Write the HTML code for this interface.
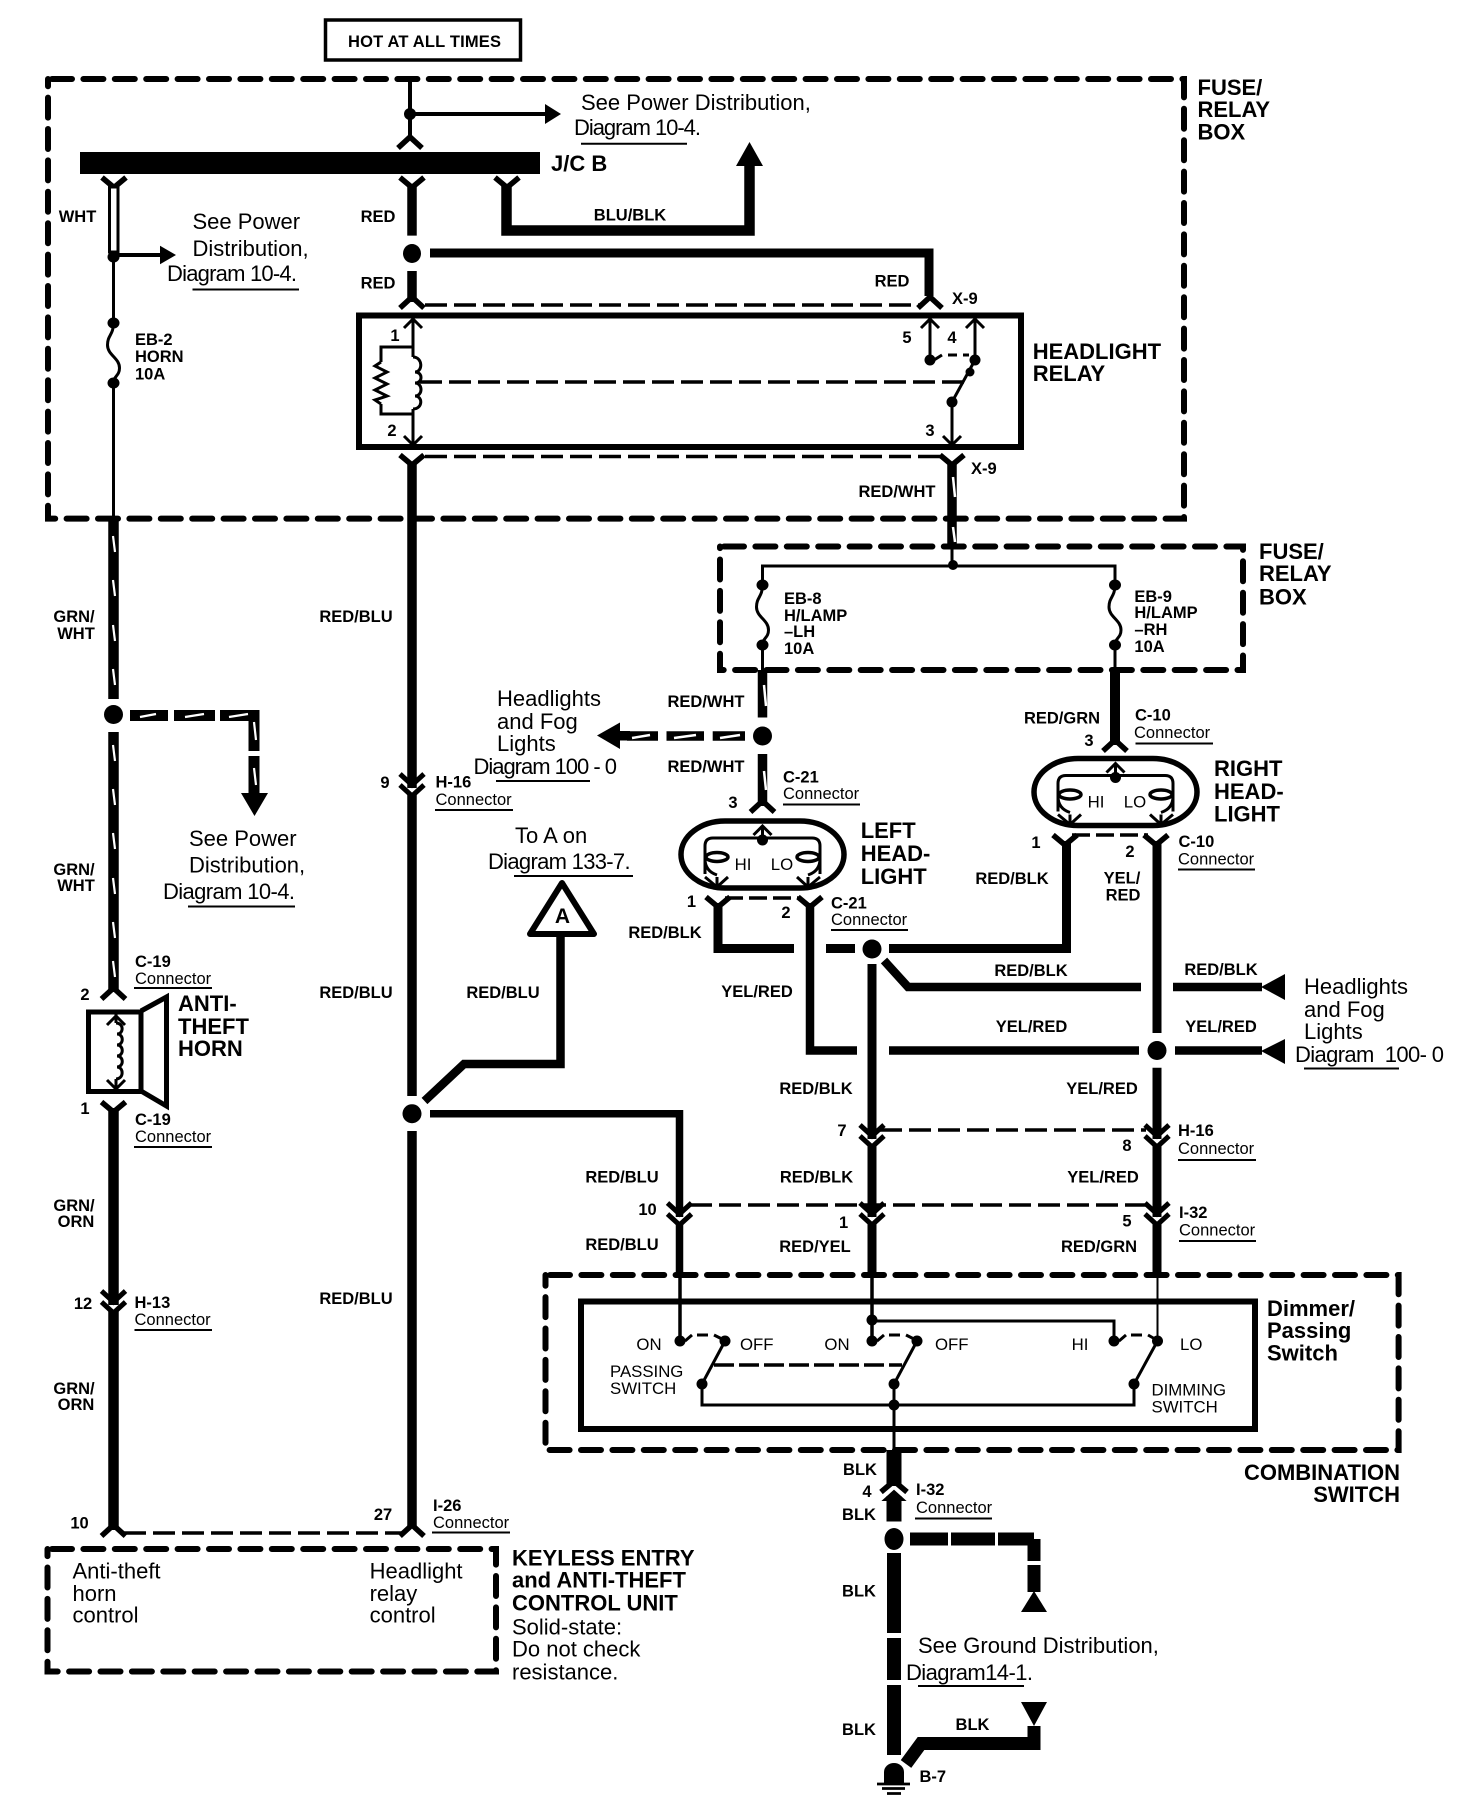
<!DOCTYPE html>
<html><head><meta charset="utf-8"><title>Wiring diagram</title>
<style>
html,body{margin:0;padding:0;background:#fff}
svg{display:block}
text{font-family:"Liberation Sans",sans-serif;fill:#000;stroke:none}
.b{font-size:16.5px;font-weight:bold}
.m{text-anchor:middle}
.c{font-size:16.5px}
.t{font-size:22px}
.h{font-size:22px;font-weight:bold}
.s{font-size:16.8px}
.e{text-anchor:end}
.u{stroke-width:2}
</style></head><body>
<svg width="1472" height="1816" viewBox="0 0 1472 1816" xmlns="http://www.w3.org/2000/svg" fill="none" stroke="#000">
<defs>
<path id="yo" d="M-12,0 L0,10 L12,0" stroke-width="5.5"/>
<path id="yp" d="M-12,11 L0,0 L12,11" stroke-width="5.5"/>
<path id="vu" d="M-9,9 L0,0 L9,9" stroke-width="3"/>
<path id="vd" d="M-9,-9 L0,0 L9,-9" stroke-width="3"/>
<g id="cc"><rect x="-7" y="14" width="14" height="5" fill="#fff" stroke="none"/><path d="M-12,0 L0,11 L12,0" stroke-width="5"/><path d="M-12,11 L0,22 L12,11" stroke-width="5"/></g>
<g id="fuse"><path d="M0,0 C0,12 -6,12 -6,22 C-6,32 6,35 6,45 C6,53 0,53 0,60" stroke-width="3"/><ellipse cx="0" cy="0" rx="6" ry="5.5" fill="#000" stroke="none"/><ellipse cx="0" cy="60" rx="6" ry="5.5" fill="#000" stroke="none"/></g>
<g id="hl">
<rect x="3" y="2" width="163" height="67" rx="44" ry="34" stroke-width="5.5"/>
<path d="M84.5,21 V7" stroke-width="3"/>
<use href="#vu" x="84.5" y="7"/>
<ellipse cx="84.5" cy="21" rx="5.5" ry="5.5" fill="#000" stroke="none"/>
<path d="M84.5,19 H35 Q27,19 27,27 V55 M84.5,19 H134 Q142,19 142,27 V55" stroke-width="3"/>
<ellipse cx="39" cy="38" rx="11" ry="4.5" stroke-width="3.5" fill="#fff"/>
<ellipse cx="130" cy="38" rx="11" ry="4.5" stroke-width="3.5" fill="#fff"/>
<path d="M27,40 Q27,52 39,56 M142,40 Q142,52 130,56" stroke-width="3"/>
<path d="M27,58 L39,68 L50,58 M39,58 V68 M119,58 L130,68 L142,58 M130,58 V68" stroke-width="3"/>
</g>
</defs>

<!-- HOT -->
<rect x="325.5" y="20" width="195" height="40" stroke-width="3.5"/>
<text class="b" x="348" y="47" textLength="153">HOT AT ALL TIMES</text>

<!-- dashed boxes -->
<g stroke-width="6" stroke-dasharray="20 11.4" stroke-linecap="round">
<path d="M52,79 H1184 V518.6 H48 V79"/>
<path d="M724,546.5 H1243 V670 H720 V546.5"/>
<path d="M550,1275 H1398.6 V1450 H545.5 V1275"/>
<path d="M52,1549 H496 V1671.5 H47.5 V1549"/>
</g>

<!-- top feed -->
<path d="M410,79 V137" stroke-width="4"/>
<ellipse cx="410" cy="114" rx="6" ry="6" fill="#000" stroke="none"/>
<path d="M410,114 H546" stroke-width="4"/>
<polygon points="545,104 561,114 545,124" fill="#000" stroke="none"/>
<use href="#yp" x="410" y="137"/>
<rect x="80" y="152" width="460" height="22" fill="#000" stroke="none"/>
<text class="h" x="551" y="171">J/C B</text>
<text class="t" x="581" y="110">See Power Distribution,</text>
<text class="t" x="574" y="135" textLength="127">Diagram 10-4.</text>
<path class="u" d="M581,143.7 H687"/>
<text class="h" x="1197.5" y="95">FUSE/</text>
<text class="h" x="1197.5" y="117">RELAY</text>
<text class="h" x="1197.5" y="139.6">BOX</text>

<!-- left WHT -->
<use href="#yo" x="114" y="177.5"/>
<rect x="109.5" y="187" width="8.5" height="65" fill="#fff" stroke-width="3"/>
<ellipse cx="113.5" cy="257" rx="6" ry="5.5" fill="#000" stroke="none"/>
<path d="M114,255 H161" stroke-width="4"/>
<polygon points="160,245.7 176,255 160,264.3" fill="#000" stroke="none"/>
<path d="M113.5,257 V323 M113.5,383 V518" stroke-width="3"/>
<use href="#fuse" x="113.5" y="323"/>
<text class="b m" x="77.5" y="222">WHT</text>
<text class="t" x="192.5" y="229">See Power</text>
<text class="t" x="192.5" y="256">Distribution,</text>
<text class="t" x="167" y="281" textLength="130">Diagram 10-4.</text>
<path class="u" d="M192.5,289.5 H299"/>
<text class="b" x="135" y="345">EB-2</text>
<text class="b" x="135" y="362">HORN</text>
<text class="b" x="135" y="379.5">10A</text>

<!-- middle RED -->
<use href="#yo" x="412" y="177.5"/>
<path d="M412,185 V235.6 M412,271 V302" stroke-width="9.5"/>
<ellipse cx="412" cy="253.5" rx="9" ry="9.5" fill="#000" stroke="none"/>
<use href="#yp" x="412" y="297"/>
<path d="M425,305 H920" stroke-width="3.5" stroke-dasharray="22 7"/>
<path d="M430,253 H929 V296" stroke-width="9"/>
<use href="#yp" x="930" y="297"/>
<text class="b m" x="378" y="222">RED</text>
<text class="b m" x="378" y="288.6">RED</text>
<text class="b m" x="892" y="286.6">RED</text>
<text class="b" x="952" y="304">X-9</text>

<!-- BLU/BLK -->
<use href="#yo" x="507" y="177.5"/>
<path d="M506.5,185 V230.5 H749.5 V165" stroke-width="10.5"/>
<polygon points="749.5,142 763,166 736,166" fill="#000" stroke="none"/>
<text class="b m" x="630" y="220.7">BLU/BLK</text>

<!-- relay -->
<rect x="359" y="315.5" width="662" height="131.5" stroke-width="6"/>
<text class="h" x="1032.7" y="359">HEADLIGHT</text>
<text class="h" x="1032.7" y="381">RELAY</text>
<path d="M413,318 V357 M413,409 V446" stroke-width="3"/>
<use href="#vu" x="413" y="319"/>
<use href="#vd" x="413" y="445"/>
<path d="M413,347 H381 V362 M381,404 V414 H413" stroke-width="3"/>
<path d="M381,362 L375,366 L387,372 L375,378 L387,384 L375,390 L387,396 L375,400 L381,404" stroke-width="3"/>
<path d="M413,357 C423,357 423,372 415,372 C423,372 423,383 415,383 C423,383 423,396 415,396 C423,396 423,409 413,409" stroke-width="3"/>
<path d="M420,382 H964" stroke-width="3.5" stroke-dasharray="22 7"/>
<path d="M930,319 V360 M975,319 V360 M975,360 L952,402 V444" stroke-width="3"/>
<use href="#vu" x="930" y="319"/>
<use href="#vu" x="975" y="319"/>
<use href="#vd" x="952" y="445"/>
<circle cx="930" cy="360" r="5.5" fill="#000" stroke="none"/>
<circle cx="975" cy="360" r="5.5" fill="#000" stroke="none"/>
<circle cx="970" cy="372" r="4.5" fill="#000" stroke="none"/>
<circle cx="952" cy="402" r="5.5" fill="#000" stroke="none"/>
<path d="M934,360 L942,355 M948,355 H957 M963,355 H969" stroke-width="3"/>
<text class="b m" x="395" y="341">1</text>
<text class="b m" x="392" y="436">2</text>
<text class="b m" x="907" y="343">5</text>
<text class="b m" x="952" y="343">4</text>
<text class="b m" x="930" y="436">3</text>

<!-- connector line under relay -->
<path d="M425,456.5 H940" stroke-width="3.5" stroke-dasharray="22 7"/>
<use href="#yo" x="412" y="455"/>
<use href="#yo" x="952" y="455"/>
<text class="b" x="971" y="474">X-9</text>
<path d="M412,462 V1096" stroke-width="9.5"/>
<circle cx="412" cy="1113.7" r="9.5" fill="#000" stroke="none"/>
<path d="M412,1131 V1528" stroke-width="9.5"/>
<use href="#yp" x="412" y="1525"/>

<!-- RED/WHT -->
<path d="M952,462 V546" stroke-width="9.5"/>
<path d="M953,477 L955,497 M953,527 L955,542" stroke="#fff" stroke-width="2.5"/>
<path d="M952,546 V566" stroke-width="3"/>
<text class="b m" x="897" y="497">RED/WHT</text>
<circle cx="953" cy="565" r="5" fill="#000" stroke="none"/>
<path d="M762.5,585 V566 H1115 V585" stroke-width="3"/>
<use href="#fuse" x="762.5" y="585"/>
<use href="#fuse" x="1115" y="585"/>
<path d="M762.5,645 V672 M1115,645 V672" stroke-width="3"/>
<text class="b" x="784" y="604">EB-8</text>
<text class="b" x="784" y="621">H/LAMP</text>
<text class="b" x="784" y="637">–LH</text>
<text class="b" x="784" y="654">10A</text>
<text class="b" x="1134.4" y="602">EB-9</text>
<text class="b" x="1134.4" y="618">H/LAMP</text>
<text class="b" x="1134.4" y="635">–RH</text>
<text class="b" x="1134.4" y="652">10A</text>
<text class="h" x="1259" y="559">FUSE/</text>
<text class="h" x="1259" y="581">RELAY</text>
<text class="h" x="1259" y="604.5">BOX</text>

<!-- wires down to headlights -->
<path d="M762.5,670 V717.5 M762.5,754 V806" stroke-width="9.5"/>
<path d="M764,685 L766,706 M764,771 L766,790" stroke="#fff" stroke-width="2.5"/>
<ellipse cx="762.5" cy="736" rx="9.5" ry="9.5" fill="#000" stroke="none"/>
<use href="#yp" x="762.5" y="801"/>
<path d="M627,736 H658 M666.5,736 H704 M712.7,736 H745" stroke-width="9.5"/>
<path d="M632,738 L650,735 M674,738 L696,735 M720,738 L740,735" stroke="#fff" stroke-width="2.5"/>
<polygon points="597,735.5 620,722.5 620,749" fill="#000" stroke="none"/>
<rect x="620" y="731" width="10" height="9.5" fill="#000" stroke="none"/>
<path d="M1115,670 V745" stroke-width="10"/>
<use href="#yp" x="1115" y="740"/>
<text class="b m" x="706" y="707">RED/WHT</text>
<text class="b m" x="706" y="772">RED/WHT</text>
<text class="b m" x="1062" y="723.5">RED/GRN</text>
<text class="b" x="1135" y="720.5">C-10</text>
<text class="c" x="1134" y="738">Connector</text>
<path class="u" d="M1135.5,743.5 H1213"/>
<text class="b m" x="1089" y="746">3</text>
<text class="b" x="783" y="782.5">C-21</text>
<text class="c" x="783" y="799">Connector</text>
<path class="u" d="M783,804.5 H860"/>
<text class="b m" x="733" y="808">3</text>

<!-- headlights -->
<use href="#hl" x="678" y="819"/>
<use href="#hl" x="1031" y="756.5"/>
<text class="s m" x="743" y="870">HI</text>
<text class="s m" x="782" y="870">LO</text>
<text class="s m" x="1096" y="807.5">HI</text>
<text class="s m" x="1135" y="807.5">LO</text>
<text class="h" x="860.7" y="838">LEFT</text>
<text class="h" x="860.7" y="861">HEAD-</text>
<text class="h" x="860.7" y="884">LIGHT</text>
<text class="h" x="1214" y="776">RIGHT</text>
<text class="h" x="1214" y="799">HEAD-</text>
<text class="h" x="1214" y="821.6">LIGHT</text>

<path d="M725,898 H800" stroke-width="3.5" stroke-dasharray="18 6"/>
<use href="#yo" x="718" y="897"/>
<use href="#yo" x="810" y="897"/>
<path d="M1072,835 H1148" stroke-width="3.5" stroke-dasharray="18 6"/>
<use href="#yo" x="1065" y="835"/>
<use href="#yo" x="1156" y="835"/>

<!-- RED/BLK and YEL/RED -->
<path d="M718,903 V948.5 H794 M826,948.5 H855" stroke-width="9"/>
<circle cx="872" cy="949" r="9.5" fill="#000" stroke="none"/>
<path d="M889,948.5 H1066.5 V841" stroke-width="9"/>
<path d="M810,903 V1050.5 H857 M889,1050.5 H1139" stroke-width="8.5"/>
<circle cx="1157" cy="1050.5" r="9.5" fill="#000" stroke="none"/>
<path d="M1175,1050.5 H1262" stroke-width="8.5"/>
<polygon points="1261,1051 1285,1039 1285,1064" fill="#000" stroke="none"/>
<path d="M884,960.5 L908,987 H1141 M1173,987 H1262" stroke-width="8.5"/>
<polygon points="1261,987 1285,974 1285,1000" fill="#000" stroke="none"/>
<path d="M1157,841 V1033 M1157,1067.7 V1274" stroke-width="9"/>
<path d="M872,964 V1274" stroke-width="9"/>
<text class="b m" x="1036" y="848">1</text>
<text class="b m" x="1130" y="857">2</text>
<text class="b" x="1178.5" y="847">C-10</text>
<text class="c" x="1178" y="864.5">Connector</text>
<path class="u" d="M1178,869.5 H1255"/>
<text class="b m" x="1012" y="884">RED/BLK</text>
<text class="b m" x="1122" y="883.5">YEL/</text>
<text class="b m" x="1123" y="900.5">RED</text>
<text class="b m" x="691.5" y="907">1</text>
<text class="b m" x="786" y="918">2</text>
<text class="b" x="831" y="908.5">C-21</text>
<text class="c" x="831" y="925">Connector</text>
<path class="u" d="M831,930 H908"/>
<text class="b m" x="665" y="938">RED/BLK</text>
<text class="b m" x="757" y="997">YEL/RED</text>
<text class="b m" x="1031" y="976">RED/BLK</text>
<text class="b m" x="1221" y="975">RED/BLK</text>
<text class="b m" x="1031.5" y="1032">YEL/RED</text>
<text class="b m" x="1221" y="1032">YEL/RED</text>
<text class="b m" x="816" y="1094">RED/BLK</text>
<text class="b m" x="1102" y="1094">YEL/RED</text>
<text class="t" x="1304" y="994">Headlights</text>
<text class="t" x="1304" y="1017">and Fog</text>
<text class="t" x="1304" y="1039">Lights</text>
<text class="t" x="1295" y="1062" xml:space="preserve" textLength="149">Diagram  100- 0</text>
<path class="u" d="M1304,1068.5 H1399"/>

<!-- Left wire -->
<path d="M113.5,518 V699 M113.5,732 V992" stroke-width="10.5"/>
<path d="M113,536 L115,552 M113,580 L115,596 M113,625 L115,641 M113,669 L115,685 M113,745 L115,761 M113,789 L115,805 M113,833 L115,849 M113,878 L115,894 M113,922 L115,938 M113,961 L115,977" stroke="#fff" stroke-width="2.2"/>
<circle cx="113.5" cy="714.5" r="9.5" fill="#000" stroke="none"/>
<path d="M130,715.5 H168 M174,715.5 H215 M220,715.5 H254 V751 M254,756 V794" stroke-width="11"/>
<path d="M140,717 L156,714 M185,717 L204,714 M229,717 L248,714 M254,722 L256,740 M254,768 L256,785" stroke="#fff" stroke-width="2.2"/>
<polygon points="241,793 268,793 254.5,816" fill="#000" stroke="none"/>
<use href="#yp" x="113.5" y="988"/>
<rect x="88.5" y="1012" width="52.5" height="79.5" stroke-width="5"/>
<path d="M141,1011 L166.5,997 V1106 L141,1091" stroke-width="5"/>
<path d="M116,1014 V1023 M116,1079 V1090" stroke-width="3"/>
<use href="#vu" x="116" y="1016"/>
<use href="#vd" x="116" y="1089"/>
<path d="M116,1023 C124,1023 124,1034 117,1034 C124,1034 124,1045 117,1045 C124,1045 124,1056 117,1056 C124,1056 124,1067 117,1067 C124,1067 124,1079 116,1079" stroke-width="3"/>
<use href="#yo" x="113.5" y="1102"/>
<path d="M113.5,1108 V1530" stroke-width="10.5"/>
<use href="#cc" x="113.5" y="1291"/>
<use href="#yp" x="113.5" y="1525"/>
<path d="M124,1533 H402" stroke-width="3.5" stroke-dasharray="22 7"/>
<text class="b m" x="74" y="622">GRN/</text>
<text class="b m" x="76" y="639">WHT</text>
<text class="b m" x="74" y="875">GRN/</text>
<text class="b m" x="76" y="891">WHT</text>
<text class="b m" x="74" y="1211">GRN/</text>
<text class="b m" x="76" y="1227">ORN</text>
<text class="b m" x="74" y="1394">GRN/</text>
<text class="b m" x="76" y="1410">ORN</text>
<text class="b m" x="85" y="1000">2</text>
<text class="b m" x="85" y="1114">1</text>
<text class="b" x="135" y="967">C-19</text>
<text class="c" x="135" y="984">Connector</text>
<path class="u" d="M134,988 H212"/>
<text class="b" x="135" y="1125">C-19</text>
<text class="c" x="135" y="1142">Connector</text>
<path class="u" d="M134,1147 H212"/>
<text class="h" x="178" y="1011">ANTI-</text>
<text class="h" x="178" y="1034">THEFT</text>
<text class="h" x="178" y="1056">HORN</text>
<text class="t" x="189" y="846">See Power</text>
<text class="t" x="189" y="872.5">Distribution,</text>
<text class="t" x="163" y="899" textLength="132">Diagram 10-4.</text>
<path class="u" d="M188,906.5 H295"/>
<text class="b m" x="83" y="1309">12</text>
<text class="b" x="134.5" y="1308">H-13</text>
<text class="c" x="134.5" y="1325">Connector</text>
<path class="u" d="M134.5,1330 H212"/>
<text class="b m" x="79.5" y="1528.6">10</text>

<!-- H-16 at middle wire -->
<use href="#cc" x="412" y="774"/>
<text class="b m" x="385" y="788">9</text>
<text class="b" x="435.5" y="787.5">H-16</text>
<text class="c" x="435.5" y="805">Connector</text>
<path class="u" d="M435,810 H513"/>
<text class="b m" x="356" y="622">RED/BLU</text>
<text class="b m" x="356" y="998">RED/BLU</text>
<text class="b m" x="356" y="1304">RED/BLU</text>
<text class="b m" x="383" y="1520">27</text>
<text class="b" x="433" y="1511">I-26</text>
<text class="c" x="433" y="1528">Connector</text>
<path class="u" d="M432,1532.5 H510"/>

<text class="t" x="497" y="706">Headlights</text>
<text class="t" x="497" y="729">and Fog</text>
<text class="t" x="497" y="751">Lights</text>
<text class="t" x="473.5" y="774" textLength="143.5">Diagram 100 - 0</text>
<path class="u" d="M496,781 H590"/>
<text class="t" x="515" y="843">To A on</text>
<text class="t" x="488" y="869" textLength="142.6">Diagram 133-7.</text>
<path class="u" d="M514,876 H633"/>

<!-- triangle A -->
<polygon points="562,883 594,934 530,934" stroke-width="6" stroke-linejoin="round" fill="#fff"/>
<text class="m" x="562.5" y="923" font-size="21" font-weight="bold">A</text>
<path d="M560.5,936 V1064 H464 L424.5,1101" stroke-width="8.5"/>
<text class="b m" x="503" y="998">RED/BLU</text>
<path d="M430,1113.7 H679.5 V1275" stroke-width="7.5"/>

<!-- H-16 / I-32 dash -->
<path d="M880,1130 H1146" stroke-width="3.5" stroke-dasharray="22 7"/>
<use href="#cc" x="872" y="1125"/>
<use href="#cc" x="1157" y="1125"/>
<text class="b m" x="842" y="1136">7</text>
<text class="b m" x="1127" y="1151">8</text>
<text class="b" x="1178" y="1136">H-16</text>
<text class="c" x="1178" y="1154">Connector</text>
<path class="u" d="M1178,1160 H1256"/>
<text class="b m" x="622" y="1182.5">RED/BLU</text>
<text class="b m" x="816.5" y="1182.5">RED/BLK</text>
<text class="b m" x="1103" y="1182.5">YEL/RED</text>
<path d="M690,1205 H1146" stroke-width="3.5" stroke-dasharray="22 7"/>
<use href="#cc" x="679.5" y="1203"/>
<use href="#cc" x="872" y="1203"/>
<use href="#cc" x="1157" y="1203"/>
<text class="b m" x="647.5" y="1215">10</text>
<text class="b m" x="843.6" y="1228">1</text>
<text class="b m" x="1127" y="1226.5">5</text>
<text class="b" x="1179" y="1218">I-32</text>
<text class="c" x="1179" y="1235.5">Connector</text>
<path class="u" d="M1179,1241 H1256"/>
<text class="b m" x="622" y="1250">RED/BLU</text>
<text class="b m" x="815" y="1252">RED/YEL</text>
<text class="b m" x="1099" y="1252">RED/GRN</text>

<!-- switch -->
<rect x="581" y="1301.5" width="674" height="127.5" stroke-width="6"/>
<text class="h" x="1267" y="1316">Dimmer/</text>
<text class="h" x="1267" y="1338">Passing</text>
<text class="h" x="1267" y="1360.5">Switch</text>
<text class="h e" x="1400" y="1480">COMBINATION</text>
<text class="h e" x="1400" y="1502">SWITCH</text>
<path d="M680,1274 V1341 M872,1274 V1341" stroke-width="3.5"/>
<path d="M1157.5,1274 V1341" stroke-width="2"/>
<path d="M872,1321 H1114 V1341" stroke-width="3"/>
<circle cx="872" cy="1320" r="5.5" fill="#000" stroke="none"/>
<g fill="#000" stroke="none">
<circle cx="680" cy="1341" r="5.5"/><circle cx="725" cy="1341" r="5.5"/>
<circle cx="872" cy="1341" r="5.5"/><circle cx="917" cy="1341" r="5.5"/>
<circle cx="1114" cy="1341" r="5.5"/><circle cx="1157.5" cy="1341" r="5.5"/>
<circle cx="702" cy="1384" r="5.5"/><circle cx="894" cy="1384" r="5.5"/><circle cx="1134" cy="1384" r="5.5"/>
<circle cx="894" cy="1405" r="5.5"/>
</g>
<path d="M725,1341 L702,1384 V1405 H1134 V1384 L1157.5,1341 M917,1341 L894,1384 V1452" stroke-width="3"/>
<path d="M685,1341 L692,1335 M697,1335 H708 M714,1335 L722,1339 M877,1341 L884,1335 M889,1335 H900 M906,1335 L914,1339 M1119,1341 L1126,1335 M1131,1335 H1142 M1148,1335 L1155,1339" stroke-width="3"/>
<path d="M714,1365 H902" stroke-width="3.5" stroke-dasharray="20 5"/>
<text class="s m" x="649" y="1350">ON</text>
<text class="s" x="740" y="1350">OFF</text>
<text class="s m" x="837" y="1350">ON</text>
<text class="s" x="935" y="1350">OFF</text>
<text class="s m" x="1080" y="1350">HI</text>
<text class="s" x="1180" y="1350">LO</text>
<text class="s" x="610" y="1377">PASSING</text>
<text class="s" x="610" y="1394">SWITCH</text>
<text class="s" x="1151.5" y="1395.5">DIMMING</text>
<text class="s" x="1151.5" y="1412.5">SWITCH</text>

<!-- BLK -->
<path d="M894,1450 V1486" stroke-width="15"/>
<path d="M881,1492 L894,1481 L907,1492" stroke-width="5.5"/>
<path d="M894,1496 V1521.5" stroke-width="15"/>
<path d="M884,1500 L894,1491 L904,1500 Z" fill="#000" stroke="#000" stroke-width="2"/>
<ellipse cx="894" cy="1539" rx="9.5" ry="11" fill="#000" stroke="none"/>
<path d="M894,1553 V1633 M894,1638 V1680 M894,1685 V1755" stroke-width="14"/>
<path d="M910,1539 H948 M951,1539 H995 M998,1539 H1034 M1034,1539 V1561 M1034,1565 V1592" stroke-width="13"/>
<polygon points="1034,1591 1047,1612 1021,1612" fill="#000" stroke="none"/>
<polygon points="1021,1702 1047,1702 1034,1726" fill="#000" stroke="none"/>
<path d="M1034,1726 V1743.5 H921 L906,1764" stroke-width="13"/>
<path d="M877,1784 H910 M882,1788.5 H905 M887,1793.5 H901" stroke-width="2.8"/>
<path d="M884,1783 V1772 A10,9 0 0 1 904,1772 V1783 Z" fill="#000" stroke="none"/>
<text class="b m" x="860" y="1475">BLK</text>
<text class="b m" x="867" y="1497">4</text>
<text class="b m" x="859" y="1520">BLK</text>
<text class="b" x="916" y="1495">I-32</text>
<text class="c" x="916" y="1513">Connector</text>
<path class="u" d="M915,1518.5 H992"/>
<text class="b m" x="859" y="1596.6">BLK</text>
<text class="b m" x="859" y="1735">BLK</text>
<text class="b m" x="972.5" y="1730">BLK</text>
<text class="b" x="919.5" y="1782">B-7</text>
<text class="t" x="918" y="1653">See Ground Distribution,</text>
<text class="t" x="906" y="1680" textLength="127">Diagram14-1.</text>
<path class="u" d="M918,1686 H1024"/>

<!-- keyless unit text -->
<text class="t" x="72.5" y="1578.5">Anti-theft</text>
<text class="t" x="72.5" y="1601">horn</text>
<text class="t" x="72.5" y="1622.5">control</text>
<text class="t" x="369.6" y="1578.5">Headlight</text>
<text class="t" x="369.6" y="1601">relay</text>
<text class="t" x="369.6" y="1622.5">control</text>
<text class="h" x="512" y="1565.5">KEYLESS ENTRY</text>
<text class="h" x="512" y="1587.5">and ANTI-THEFT</text>
<text class="h" x="512" y="1610.5">CONTROL UNIT</text>
<text class="t" x="512" y="1634.5">Solid-state:</text>
<text class="t" x="512" y="1656.5">Do not check</text>
<text class="t" x="512" y="1679.5">resistance.</text>
</svg>
</body></html>
